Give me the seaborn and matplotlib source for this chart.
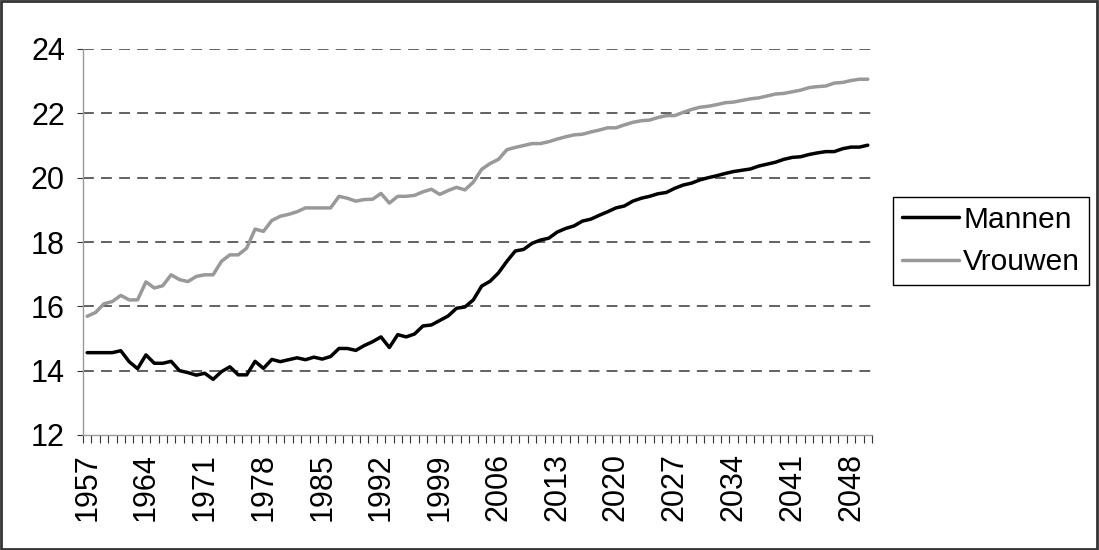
import matplotlib
matplotlib.use("Agg")
import matplotlib.pyplot as plt
import seaborn as sns
import pandas as pd
import numpy as np
from matplotlib.patches import Rectangle

years = list(range(1957, 2051))

mannen = [
    14.56, 14.56, 14.56, 14.56, 14.62, 14.28, 14.06, 14.49, 14.23, 14.23,
    14.29, 14.00, 13.94, 13.86, 13.92, 13.73, 13.97, 14.12, 13.87, 13.87,
    14.29, 14.07, 14.35, 14.28, 14.34, 14.40, 14.34, 14.42, 14.36, 14.44,
    14.69, 14.69, 14.63, 14.78, 14.90, 15.05, 14.72, 15.12, 15.05, 15.14,
    15.39, 15.42, 15.56, 15.70, 15.94, 15.98, 16.20, 16.63, 16.78, 17.04,
    17.40, 17.72, 17.77, 17.96, 18.06, 18.12, 18.31, 18.42, 18.50, 18.65,
    18.71, 18.83, 18.94, 19.06, 19.12, 19.27, 19.36, 19.42, 19.50, 19.54,
    19.67, 19.77, 19.83, 19.93, 20.00, 20.06, 20.13, 20.19, 20.23, 20.27,
    20.36, 20.42, 20.48, 20.57, 20.63, 20.65, 20.72, 20.77, 20.81, 20.81,
    20.90, 20.95, 20.95, 21.01,
]

vrouwen = [
    15.69, 15.81, 16.08, 16.15, 16.34, 16.20, 16.20, 16.76, 16.57, 16.64,
    16.98, 16.83, 16.77, 16.93, 16.98, 16.98, 17.40, 17.60, 17.60, 17.81,
    18.40, 18.33, 18.67, 18.80, 18.86, 18.94, 19.06, 19.06, 19.06, 19.06,
    19.42, 19.36, 19.27, 19.32, 19.33, 19.51, 19.21, 19.42, 19.42, 19.45,
    19.56, 19.64, 19.48, 19.60, 19.70, 19.62, 19.86, 20.26, 20.44, 20.57,
    20.87, 20.94, 21.00, 21.06, 21.06, 21.12, 21.20, 21.27, 21.33, 21.35,
    21.42, 21.48, 21.55, 21.55, 21.64, 21.72, 21.77, 21.79, 21.87, 21.93,
    21.93, 22.03, 22.12, 22.19, 22.22, 22.27, 22.33, 22.35, 22.40, 22.45,
    22.48, 22.54, 22.60, 22.62, 22.67, 22.72, 22.80, 22.83, 22.85, 22.94,
    22.96, 23.02, 23.06, 23.06,
]

y_ticks = [12, 14, 16, 18, 20, 22, 24]
label_years = list(range(1957, 2051, 7))

df = pd.DataFrame({
    "Jaar": years * 2,
    "Waarde": mannen + vrouwen,
    "Groep": ["Mannen"] * len(years) + ["Vrouwen"] * len(years),
})

sns.set_style("white")
plt.rcParams["font.family"] = ["Liberation Sans", "DejaVu Sans"]
plt.rcParams["text.color"] = "#000000"

fig = plt.figure(figsize=(10.99, 5.5), dpi=100)
ax = fig.add_axes([83 / 1099, 115 / 550, 789 / 1099, 386 / 550])

sns.lineplot(data=df, x="Jaar", y="Waarde", hue="Groep",
             palette={"Mannen": "#000000", "Vrouwen": "#999999"},
             linewidth=2.5, ax=ax, legend=True)

ax.set_xlim(1956.5, 2050.5)
ax.set_ylim(12, 24)
ax.set_yticks(y_ticks)
ax.set_yticklabels([str(v) for v in y_ticks], fontsize=22, color="#000000")
ax.set_xticks(label_years)
ax.set_xticklabels([str(v) for v in label_years], rotation=90, fontsize=22,
                   color="#000000")
ax.set_xticks(np.arange(1956.5, 2051, 1.0), minor=True)
ax.tick_params(axis="x", which="major", length=0, pad=13)
ax.tick_params(axis="x", which="minor", length=6, width=0.8, color="#333333",
               direction="out", bottom=True)
ax.tick_params(axis="y", which="major", length=4, width=0.8, color="#333333",
               direction="out", left=True, pad=9)
ax.set_xlabel("")
ax.set_ylabel("")

for v in y_ticks[1:]:
    ax.axhline(v, color="#555555", linewidth=1.3, linestyle=(0, (6, 4)), zorder=0)

for side in ["top", "right"]:
    ax.spines[side].set_visible(False)
for side in ["left", "bottom"]:
    ax.spines[side].set_color("#999999")
    ax.spines[side].set_linewidth(1.0)

handles, labels = ax.get_legend_handles_labels()
ax.legend(handles, labels, loc="center left",
          bbox_to_anchor=(893 / 1099, (550 - 241) / 550),
          bbox_transform=fig.transFigure, fontsize=21.5, frameon=True,
          fancybox=False, edgecolor="#000000", framealpha=1,
          handlelength=1.9, handletextpad=0.15, borderpad=0.3,
          labelspacing=0.5, borderaxespad=0)
ax.get_legend().get_frame().set_linewidth(1.0)

fig.patches.append(Rectangle((0.001, 0.002), 0.997, 0.996, transform=fig.transFigure,
                             fill=False, edgecolor="#333333", linewidth=2))

fig.savefig("out.png", dpi=100)
